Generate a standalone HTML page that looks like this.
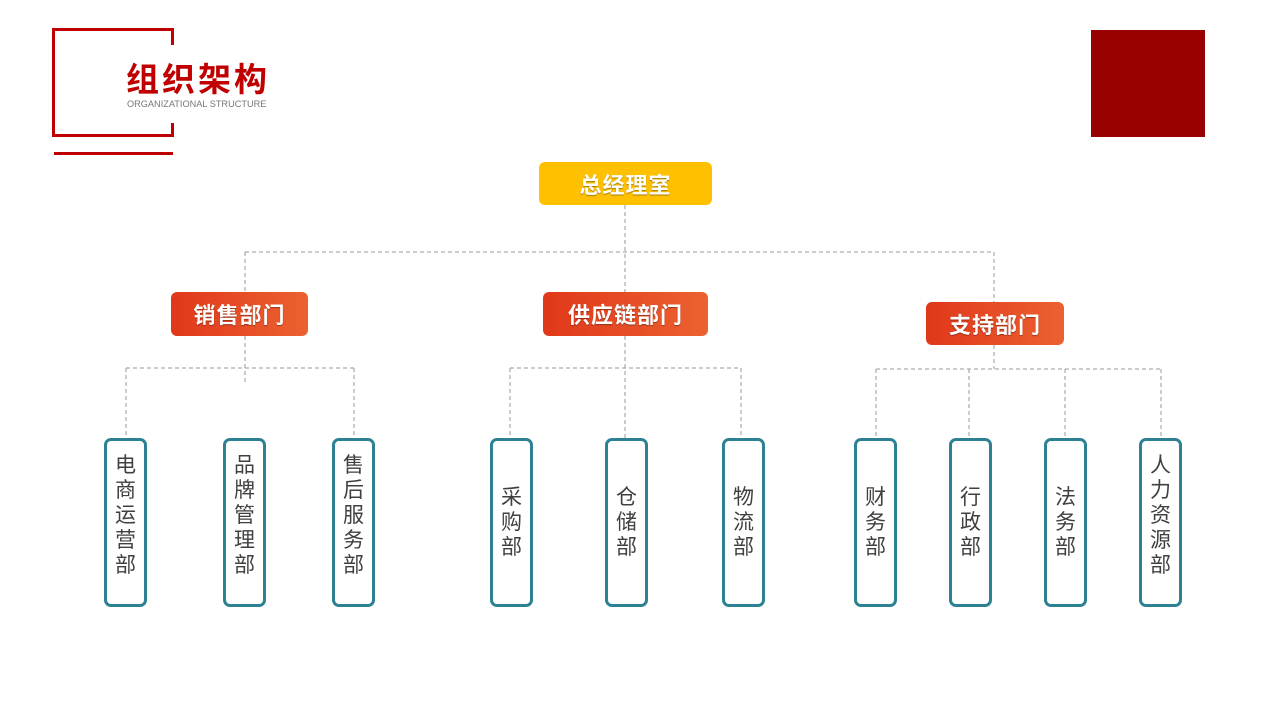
<!DOCTYPE html>
<html><head><meta charset="utf-8"><style>
body{margin:0;width:1280px;height:720px;background:#fff;position:relative;overflow:hidden;font-family:"Liberation Sans","Noto Sans CJK SC",sans-serif}
.a{position:absolute}
.r{background:#c00000}
.top{position:absolute;border-radius:6px;color:#fff;font-weight:bold;font-size:22px;display:flex;align-items:center;justify-content:center;letter-spacing:1px;text-shadow:0 1px 1px rgba(0,0,0,.35)}
.dep{background:linear-gradient(90deg,#e0381a,#ec6130)}
.c{position:absolute;top:438px;width:37px;height:163px;border:3px solid #2c8293;border-radius:7px;display:flex;align-items:center;justify-content:center;font-size:21px;line-height:25px;color:#404040;text-align:center}
.c span{width:24px;display:block}
</style></head><body>
<div class="a r" style="left:52px;top:28px;width:3px;height:109px"></div>
<div class="a r" style="left:52px;top:28px;width:122px;height:3px"></div>
<div class="a r" style="left:171px;top:28px;width:3px;height:17px"></div>
<div class="a r" style="left:52px;top:134px;width:122px;height:3px"></div>
<div class="a r" style="left:171px;top:123px;width:3px;height:14px"></div>
<div class="a r" style="left:54px;top:152px;width:119px;height:3px"></div>
<div class="a" style="left:126px;top:58px;font-size:33px;font-weight:bold;color:#c00000;letter-spacing:3px;line-height:44px">组织架构</div>
<div class="a" style="left:127px;top:99px;font-size:9.2px;color:#777;line-height:10px">ORGANIZATIONAL STRUCTURE</div>
<div class="a" style="left:1091px;top:30px;width:114px;height:107px;background:#990000"></div>

<svg class="a" style="left:0;top:0" width="1280" height="720">
<g stroke="#999" stroke-width="1" stroke-dasharray="4,3" fill="none">
<path d="M625 205V292M245 252H994M245 252V292M994 252V302"/>
<path d="M245 336V385M126 368H354M126 368V438M354 368V438"/>
<path d="M625 336V438M510 368H741M510 368V438M741 368V438"/>
<path d="M994 345V369M876 369H1161M876 369V438M969 369V438M1065 369V438M1161 369V438"/>
</g></svg>

<div class="top" style="left:539px;top:162px;width:173px;height:43px;background:#ffc000">总经理室</div>
<div class="top dep" style="left:171px;top:292px;width:137px;height:44px">销售部门</div>
<div class="top dep" style="left:543px;top:292px;width:165px;height:44px">供应链部门</div>
<div class="top dep" style="left:926px;top:302px;width:138px;height:43px">支持部门</div>

<div class="c" style="left:104px"><span style="margin-top:-14px">电商运营部</span></div>
<div class="c" style="left:223px"><span style="margin-top:-14px">品牌管理部</span></div>
<div class="c" style="left:332px"><span style="margin-top:-14px">售后服务部</span></div>
<div class="c" style="left:490px"><span>采购部</span></div>
<div class="c" style="left:605px"><span>仓储部</span></div>
<div class="c" style="left:722px"><span>物流部</span></div>
<div class="c" style="left:854px"><span>财务部</span></div>
<div class="c" style="left:949px"><span>行政部</span></div>
<div class="c" style="left:1044px"><span>法务部</span></div>
<div class="c" style="left:1139px"><span style="margin-top:-14px">人力资源部</span></div>
</body></html>
